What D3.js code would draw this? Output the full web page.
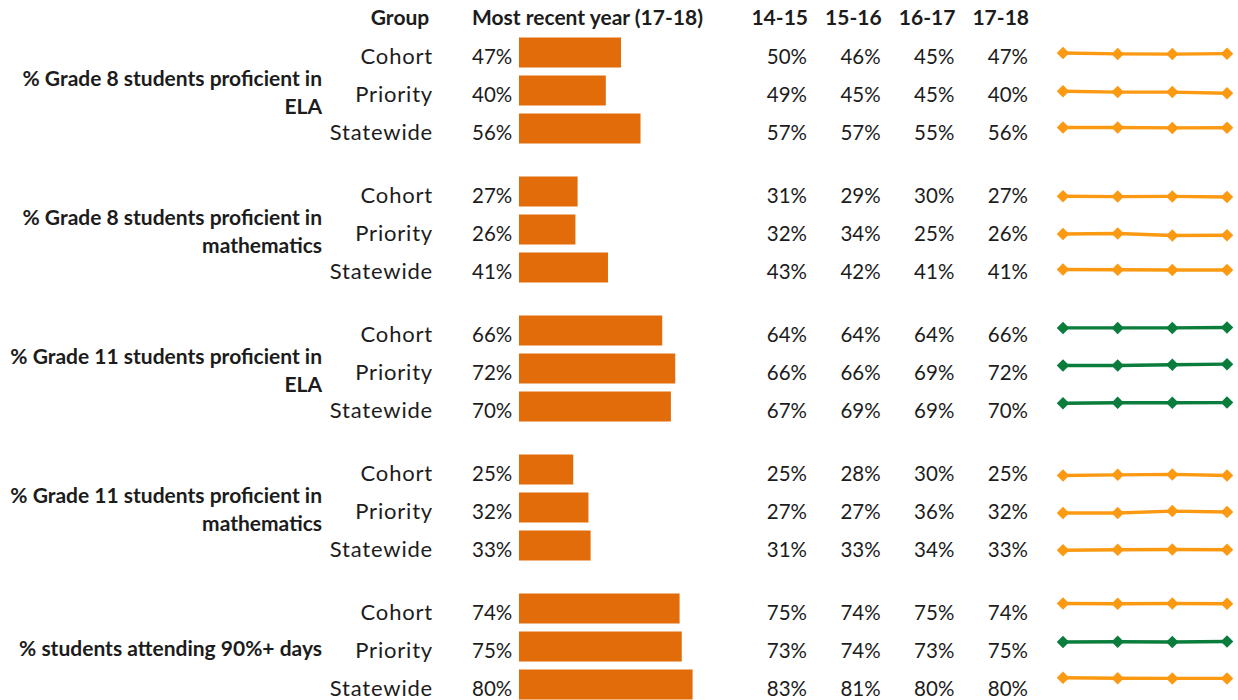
<!DOCTYPE html>
<html>
<head>
<meta charset="utf-8">
<script src="https://cdn.jsdelivr.net/npm/d3@7"></script>
<style>
  html, body { margin: 0; padding: 0; background: #ffffff; }
  svg { display: block; }
  text { font-family: Lato, "Open Sans", sans-serif; fill: #1c1c1c; }
  .hdr { font-weight: 700; }
  .metric { font-weight: 700; }
</style>
</head>
<body>
<svg id="chart" width="1238" height="700"></svg>
<script>
// ---- data ----
const years = ["14-15", "15-16", "16-17", "17-18"];
const groups = ["Cohort", "Priority", "Statewide"];
const metricLines = [
  ["% Grade 8 students proficient in", "ELA"],
  ["% Grade 8 students proficient in", "mathematics"],
  ["% Grade 11 students proficient in", "ELA"],
  ["% Grade 11 students proficient in", "mathematics"],
  ["% students attending 90%+ days"]
];
// rows: Cohort, Priority, Statewide; columns: years
const ela8 = [[50, 46, 45, 47], [49, 45, 45, 40], [57, 57, 55, 56]];
const math8 = [[31, 29, 30, 27], [32, 34, 25, 26], [43, 42, 41, 41]];
const ela11 = [[64, 64, 64, 66], [66, 66, 69, 72], [67, 69, 69, 70]];
const math11 = [[25, 28, 30, 25], [27, 27, 36, 32], [31, 33, 34, 33]];
const attendance = [[75, 74, 75, 74], [73, 74, 73, 75], [83, 81, 80, 80]];
// trend status per row (true = on track, drawn green)
const onTrack = [
  [false, false, false],
  [false, false, false],
  [true, true, true],
  [false, false, false],
  [false, true, false]
];
const metricValues = [ela8, math8, ela11, math11, attendance];

// ---- layout ----
const svg = d3.select("#chart");
const colors = { bar: "#e36c0a", warn: "#fb9a12", good: "#0a7d3c" };

const rowStep = 38;
const groupY = d3.scaleLinear().domain([0, 1]).range([37.5, 37.5 + 139]);   // top of a metric block
const rowTop = (m, r) => groupY(m) + r * rowStep;

const xBar = d3.scaleLinear().domain([0, 100]).range([519, 736]);
const xYearText = d3.scalePoint().domain(years).range([808, 1029]);
const xSpark = d3.scalePoint().domain(years).range([1063, 1227]);

// headers
svg.append("text").attr("class", "hdr").attr("x", 400).attr("y", 25)
  .attr("text-anchor", "middle").style("font-size", "21px").text("Group");
svg.append("text").attr("class", "hdr").attr("x", 472).attr("y", 25)
  .style("font-size", "21px").text("Most recent year (17-18)");
svg.selectAll("text.yearHdr").data(years).join("text")
  .attr("class", "hdr yearHdr")
  .attr("x", d => xYearText(d)).attr("y", 25)
  .attr("text-anchor", "end").style("font-size", "21px").text(d => d);

// flatten rows
const rows = [];
metricValues.forEach((block, m) => {
  block.forEach((vals, r) => {
    rows.push({ m, r, group: groups[r], vals, latest: vals[vals.length - 1], good: onTrack[m][r] });
  });
});

// metric labels
metricLines.forEach((lines, m) => {
  const center = rowTop(m, 1) + 17;
  const lh = 28;
  const first = center - (lines.length - 1) * lh / 2;
  const t = svg.append("text").attr("class", "metric").attr("text-anchor", "end")
    .style("font-size", "21px");
  lines.forEach((ln, i) => {
    t.append("tspan").attr("x", 322).attr("y", first + i * lh + 7).text(ln);
  });
});

const row = svg.selectAll("g.row").data(rows).join("g").attr("class", "row")
  .attr("transform", d => `translate(0,${rowTop(d.m, d.r)})`);

// group names
row.append("text").attr("x", 433).attr("y", 26).attr("text-anchor", "end")
  .style("font-size", "22px").style("letter-spacing", "0.8px").text(d => d.group);

// most recent value
row.append("text").attr("x", 472).attr("y", 26)
  .style("font-size", "20.5px").text(d => d.latest + "%");

// bars
row.append("rect")
  .attr("x", xBar(0)).attr("y", 0)
  .attr("width", d => xBar(d.latest) - xBar(0)).attr("height", 30)
  .attr("fill", colors.bar);

// yearly values
row.selectAll("text.yv").data(d => d.vals.map((v, i) => ({ v, y: years[i] }))).join("text")
  .attr("class", "yv")
  .attr("x", d => xYearText(d.y) - 1).attr("y", 26).attr("text-anchor", "end")
  .style("font-size", "20.5px").text(d => d.v + "%");

// sparklines
const ySpark = d3.scaleLinear().domain([0, 100]).range([26.5, 4.5]);
const line = d3.line().x((v, i) => xSpark(years[i])).y(v => ySpark(v));
const diamond = d3.symbol().type(d3.symbolSquare).size(78);

row.append("path")
  .attr("d", d => line(d.vals))
  .attr("fill", "none")
  .attr("stroke", d => d.good ? colors.good : colors.warn)
  .attr("stroke-width", 3.4)
  .attr("stroke-linejoin", "round");

row.each(function (d) {
  d3.select(this).selectAll("path.mk").data(d.vals).join("path")
    .attr("class", "mk")
    .attr("d", diamond)
    .attr("transform", (v, i) => `translate(${xSpark(years[i])},${ySpark(v)}) rotate(45)`)
    .attr("fill", d.good ? colors.good : colors.warn);
});
</script>
</body>
</html>
